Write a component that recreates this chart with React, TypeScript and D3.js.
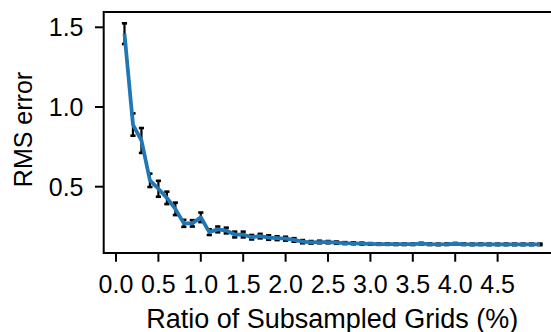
import React from "react";
import * as d3 from "d3";

const ratios: number[] = [
  0.1, 0.2, 0.3, 0.4, 0.5, 0.6, 0.7, 0.8, 0.9, 1.0,
  1.1, 1.2, 1.3, 1.4, 1.5, 1.6, 1.7, 1.8, 1.9, 2.0,
  2.1, 2.2, 2.3, 2.4, 2.5, 2.6, 2.7, 2.8, 2.9, 3.0,
  3.1, 3.2, 3.3, 3.4, 3.5, 3.6, 3.7, 3.8, 3.9, 4.0,
  4.1, 4.2, 4.3, 4.4, 4.5, 4.6, 4.7, 4.8, 4.9, 5.0,
];
const rmsError: number[] = [
  1.46, 0.89, 0.79, 0.54, 0.487, 0.43, 0.361, 0.27, 0.27, 0.308,
  0.215, 0.232, 0.225, 0.2, 0.2, 0.183, 0.19, 0.181, 0.177, 0.174,
  0.166, 0.155, 0.151, 0.153, 0.152, 0.149, 0.146, 0.145, 0.143, 0.141,
  0.14, 0.14, 0.139, 0.139, 0.139, 0.143, 0.139, 0.138, 0.139, 0.142,
  0.139, 0.138, 0.139, 0.138, 0.138, 0.138, 0.138, 0.138, 0.138, 0.138,
];
const errSize: number[] = [
  0.065, 0.07, 0.078, 0.042, 0.05, 0.039, 0.039, 0.022, 0.02, 0.03,
  0.018, 0.018, 0.018, 0.018, 0.018, 0.014, 0.014, 0.014, 0.012, 0.012,
  0.011, 0.01, 0.008, 0.008, 0.007, 0.007, 0.006, 0.006, 0.006, 0.005,
  0.005, 0.005, 0.005, 0.005, 0.005, 0.005, 0.005, 0.005, 0.005, 0.005,
  0.005, 0.005, 0.005, 0.005, 0.005, 0.005, 0.005, 0.005, 0.005, 0.005,
];
const xTicks: number[] = [0, 0.5, 1.0, 1.5, 2.0, 2.5, 3.0, 3.5, 4.0, 4.5];
const yTicks: number[] = [0.5, 1.0, 1.5];
const xLabel = "Ratio of Subsampled Grids (%)";
const yLabel = "RMS error";

const W = 551;
const H = 332;
const FONT = "'Liberation Sans', Arial, Helvetica, sans-serif";

export default function App() {
  const left = 103.7;
  const right = 560.8;
  const top = 12;
  const bottom = 253;
  const x = d3.scaleLinear().domain([-0.145, 5.245]).range([left, right]);
  const y = d3.scaleLinear().domain([0.084, 1.596]).range([bottom, top]);
  const line = d3
    .line<number>()
    .x((_, i) => x(ratios[i]))
    .y((d) => y(d));
  const tickLen = 8.75;
  const fs = 25;
  const capW = 2.6;
  return (
    <svg
      width={W}
      height={H}
      style={{ position: "absolute", left: 0, top: 0, background: "#fff" }}
      fontFamily={FONT}
    >
      <rect x={0} y={0} width={W} height={H} fill="#fff" />
      {/* error bars */}
      <g stroke="#000">
        {rmsError.map((v, i) => {
          const cx = x(ratios[i]);
          const y1 = y(v + errSize[i]);
          const y2 = y(v - errSize[i]);
          return (
            <g key={i}>
              <line x1={cx} x2={cx} y1={y1} y2={y2} strokeWidth={2.2} />
              <line x1={cx - capW} x2={cx + capW} y1={y1} y2={y1} strokeWidth={2.6} />
              <line x1={cx - capW} x2={cx + capW} y1={y2} y2={y2} strokeWidth={2.6} />
            </g>
          );
        })}
      </g>
      <path
        d={line(rmsError) || ""}
        fill="none"
        stroke="#1f77b4"
        strokeWidth={3.75}
        strokeLinejoin="round"
      />
      {/* spines */}
      <g stroke="#000" strokeWidth={2} fill="none">
        <path d={`M${left},${top}V${bottom}H${right}V${top}Z`} />
      </g>
      {/* x ticks */}
      {xTicks.map((t) => (
        <g key={t}>
          <line x1={x(t)} x2={x(t)} y1={bottom} y2={bottom + tickLen} stroke="#000" strokeWidth={2} />
          <text x={x(t)} y={292.5} textAnchor="middle" fontSize={fs} fill="#000">
            {t.toFixed(1)}
          </text>
        </g>
      ))}
      {/* y ticks */}
      {yTicks.map((t) => (
        <g key={t}>
          <line x1={left - tickLen} x2={left} y1={y(t)} y2={y(t)} stroke="#000" strokeWidth={2} />
          <text x={83.5} y={y(t) + 9} textAnchor="end" fontSize={fs} fill="#000">
            {t.toFixed(1)}
          </text>
        </g>
      ))}
      <text x={(left + right) / 2} y={327.5} textAnchor="middle" fontSize={27} fill="#000">
        {xLabel}
      </text>
      <text
        transform={`translate(32,${(top + bottom) / 2 - 3}) rotate(-90)`}
        textAnchor="middle"
        fontSize={fs}
        fill="#000"
      >
        {yLabel}
      </text>
    </svg>
  );
}
